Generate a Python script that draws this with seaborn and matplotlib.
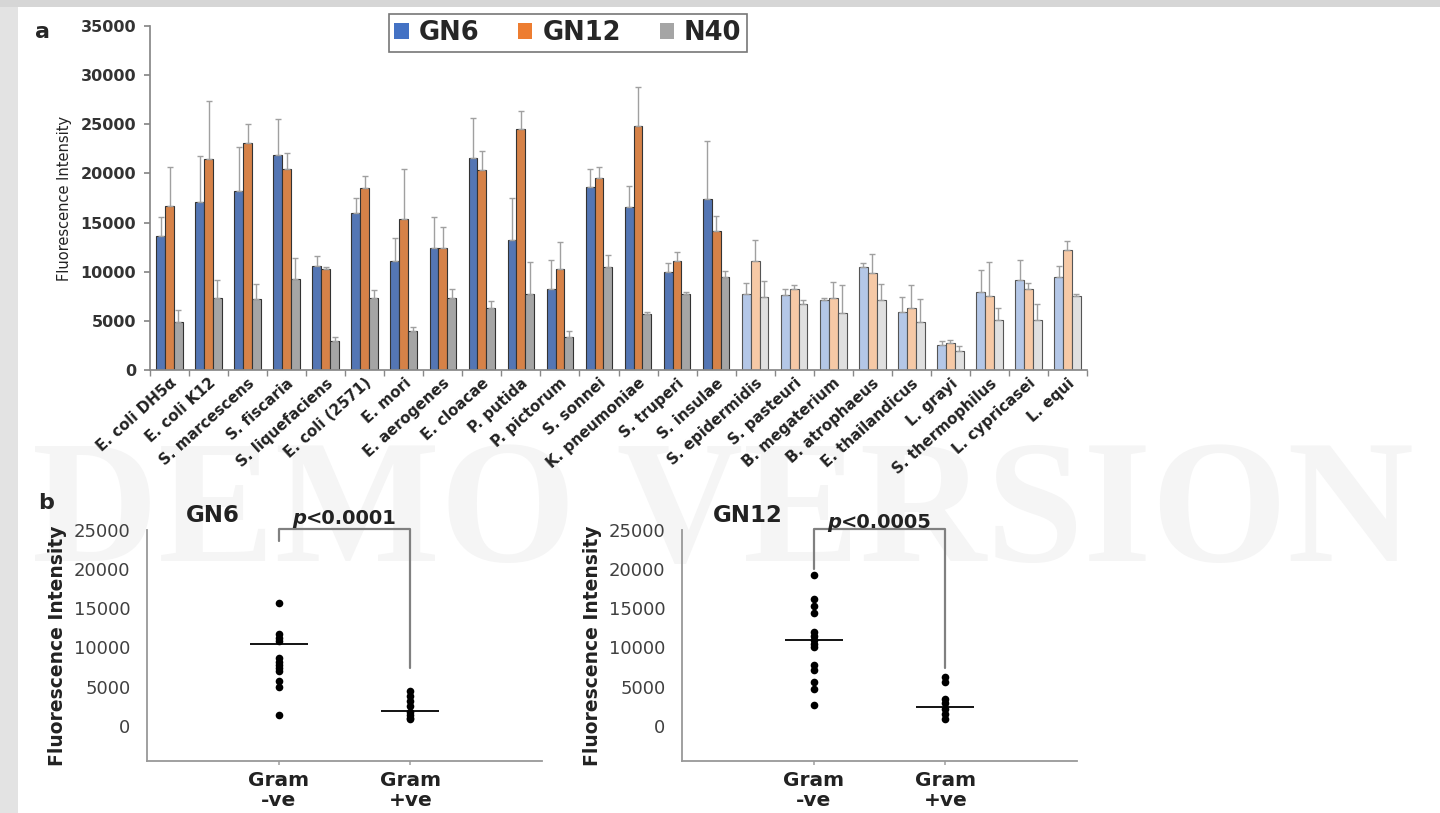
import pandas as pd
import seaborn as sns
import matplotlib.pyplot as plt
from matplotlib.patches import Rectangle, Patch

# ---- panel a data ----
species = ["E. coli DH5α", "E. coli K12", "S. marcescens", "S. fiscaria", "S. liquefaciens",
           "E. coli (2571)", "E. mori", "E. aerogenes", "E. cloacae", "P. putida",
           "P. pictorum", "S. sonnei", "K. pneumoniae", "S. truperi", "S. insulae",
           "S. epidermidis", "S. pasteuri", "B. megaterium", "B. atrophaeus",
           "E. thailandicus", "L. grayi", "S. thermophilus", "L. cypricasei", "L. equi"]
n_gram_neg = 15
probes = ["GN6", "GN12", "N40"]

gn6 = [13600, 17100, 18200, 21900, 10600, 16000, 11100, 12400, 21600, 13200, 8200, 18600,
       16600, 10000, 17400, 7700, 7600, 7100, 10500, 5900, 2500, 7900, 9200, 9500]
gn6_sd = [2000, 4700, 4500, 3600, 1000, 1500, 2300, 3200, 4000, 4300, 3000, 1900,
          2100, 900, 5900, 1200, 600, 200, 400, 1500, 400, 2300, 2000, 1100]
gn12 = [16700, 21500, 23100, 20500, 10300, 18500, 15400, 12400, 20300, 24500, 10300, 19500,
        24800, 11100, 14100, 11100, 8200, 7300, 9900, 6300, 2700, 7500, 8200, 12200]
gn12_sd = [4000, 5900, 1900, 1600, 200, 1200, 5100, 2200, 2000, 1900, 2700, 1200,
           4000, 900, 1600, 2100, 400, 1700, 1900, 2300, 400, 3500, 700, 900]
n40 = [4900, 7300, 7200, 9300, 2900, 7300, 4000, 7300, 6300, 7700, 3400, 10500,
       5700, 7700, 9500, 7400, 6700, 5800, 7100, 4900, 1900, 5100, 5100, 7500]
n40_sd = [1200, 1900, 1550, 2100, 500, 800, 400, 900, 700, 3300, 600, 1200,
          200, 200, 600, 1700, 400, 2800, 1600, 2300, 500, 1200, 1600, 200]

# ---- panel b data ----
groups = ["Gram\n-ve", "Gram\n+ve"]
gn6_neg = [15700, 11700, 11200, 10800, 8700, 8200, 7800, 7400, 7000, 5700, 5000, 1400]
gn6_pos = [4400, 3800, 3100, 2500, 1800, 1400, 1000, 800]
gn12_neg = [19300, 16200, 15300, 14400, 12000, 11500, 11000, 10500, 10000, 7700, 7100, 5600, 4700, 2600]
gn12_pos = [6200, 5600, 3400, 2900, 2100, 1500, 900]
gn6_lines = [10500, 1900]
gn12_lines = [11000, 2400]

dark = ["#4472C4", "#ED7D31", "#A5A5A5"]
light = ["#B4C7E7", "#F6C9A6", "#E0E0E0"]

sns.set_theme(style="ticks")
plt.rcParams["font.family"] = ["DejaVu Sans"]

fig = plt.figure(figsize=(14.4, 8.13), dpi=100)

# card shadow / watermark
fig.patches.append(Rectangle((0, 0), 18 / 1440, 1, transform=fig.transFigure,
                             facecolor="#e3e3e3", edgecolor="none", zorder=-3))
fig.patches.append(Rectangle((0, 1 - 7 / 813), 1, 7 / 813, transform=fig.transFigure,
                             facecolor="#d6d6d6", edgecolor="none", zorder=-3))
fig.text(0.502, 0.362, "DEMO VERSION", fontsize=126, fontweight="bold", family="Liberation Serif",
         color="#f5f5f5", ha="center", va="center", zorder=-2)

# ---------------- panel a ----------------
ax = fig.add_axes([150 / 1440, 1 - 370 / 813, 937 / 1440, 344 / 813])
ax.set_facecolor("none")
rows = []
for p, vals, sds in zip(probes, [gn6, gn12, n40], [gn6_sd, gn12_sd, n40_sd]):
    for s, v, e in zip(species, vals, sds):
        rows.append({"species": s, "probe": p, "value": v, "sd": e})
df = pd.DataFrame(rows)

sns.barplot(data=df, x="species", y="value", hue="probe", order=species, hue_order=probes,
            palette=dark, width=0.68, errorbar=None, edgecolor="#333333", linewidth=0.8,
            legend=False, ax=ax)

bar_conts = list(ax.containers)[:3]
for i, cont in enumerate(bar_conts):
    sub = df[df["probe"] == probes[i]].set_index("species").loc[species]
    xs = []
    for j, bar in enumerate(cont):
        if j >= n_gram_neg:
            bar.set_facecolor(light[i])
            bar.set_edgecolor("#555555")
        xs.append(bar.get_x() + bar.get_width() / 2)
    ax.errorbar(xs, sub["value"], yerr=[[0] * len(xs), sub["sd"]], fmt="none",
                ecolor="#a0a0a0", elinewidth=1, capsize=2.5, capthick=1, zorder=1)

ax.set_ylim(0, 35000)
ax.set_xlim(-0.5, len(species) - 0.5)
ax.set_yticks(range(0, 35001, 5000))
ax.tick_params(axis="y", labelsize=11.5, colors="#888888", labelcolor="#333333", length=4, pad=6)
for t in ax.get_yticklabels():
    t.set_fontweight("bold")
ax.set_xticks(range(len(species)))
ax.set_xticklabels(species, rotation=42, ha="right", rotation_mode="anchor",
                   fontsize=10.8, fontweight="bold", color="#222222")
ax.tick_params(axis="x", length=0, pad=4)
ax.set_xticks([k - 0.5 for k in range(len(species) + 1)], minor=True)
ax.tick_params(axis="x", which="minor", length=4, color="#888888")
ax.set_xlabel("")
ax.set_ylabel("Fluorescence Intensity", fontsize=10.5, color="#222222", labelpad=6)
sns.despine(ax=ax)
for sp in ["left", "bottom"]:
    ax.spines[sp].set_color("#888888")

handles = [Patch(facecolor=c, edgecolor="none") for c in dark]
leg = fig.legend(handles, probes, loc="center", bbox_to_anchor=(568 / 1440, 1 - 33 / 813),
                 ncol=3, frameon=True, fancybox=False, handlelength=0.55, handleheight=0.55,
                 handletextpad=0.4, columnspacing=1.5, borderpad=0.22, borderaxespad=0,
                 prop={"size": 18.5, "weight": "bold"})
leg.get_frame().set_edgecolor("#555555")
leg.get_frame().set_linewidth(1.2)
fig.text(42 / 1440, 1 - 32 / 813, "a", fontsize=16, fontweight="bold", ha="center", va="center")


# ---------------- panel b ----------------
def dot_panel(rect, neg, pos, lines, title, ptext, left_low, text_y):
    axb = fig.add_axes(rect)
    axb.set_facecolor("none")
    d = pd.DataFrame({"group": [groups[0]] * len(neg) + [groups[1]] * len(pos),
                      "value": neg + pos})
    sns.stripplot(data=d, x="group", y="value", order=groups, jitter=False,
                  color="black", size=5.5, ax=axb)
    axb.hlines(lines, [-0.22, 0.78], [0.22, 1.22], color="black", lw=1.3)
    axb.plot([0, 0, 1, 1], [left_low, 25100, 25100, 7400], color="#808080", lw=1.6,
             clip_on=False)
    axb.text(0.21, text_y, "p", fontsize=14, fontweight="bold", style="italic",
             ha="right", va="center", color="#222222")
    axb.text(0.21, text_y, "<" + ptext, fontsize=14, fontweight="bold",
             ha="left", va="center", color="#222222")
    axb.text(-0.5, 26800, title, fontsize=16.5, fontweight="bold", ha="center", va="center",
             color="#222222")
    axb.set_xlim(-1, 2)
    axb.set_ylim(-4500, 25000)
    axb.set_yticks(range(0, 25001, 5000))
    axb.tick_params(axis="y", labelsize=13, labelcolor="#404040", length=0, pad=12)
    axb.tick_params(axis="x", labelsize=14.5, labelcolor="#222222", length=3,
                    color="#aaaaaa", pad=4)
    for t in axb.get_xticklabels():
        t.set_fontweight("bold")
        t.set_linespacing(1.1)
    axb.set_xlabel("")
    axb.set_ylabel("Fluorescence Intensity", fontsize=13.5, fontweight="bold",
                   color="#222222", labelpad=5)
    sns.despine(ax=axb)
    for sp in ["left", "bottom"]:
        axb.spines[sp].set_color("#999999")
        axb.spines[sp].set_linewidth(1.3)
    return axb


dot_panel([147 / 1440, 1 - 761 / 813, 395 / 1440, 231 / 813], gn6_neg, gn6_pos, gn6_lines,
          "GN6", "0.0001", 23600, 26500)
dot_panel([682 / 1440, 1 - 761 / 813, 395 / 1440, 231 / 813], gn12_neg, gn12_pos, gn12_lines,
          "GN12", "0.0005", 20000, 25900)
fig.text(46 / 1440, 1 - 503 / 813, "b", fontsize=16, fontweight="bold", ha="center", va="center")

fig.savefig("out.png", dpi=100)
